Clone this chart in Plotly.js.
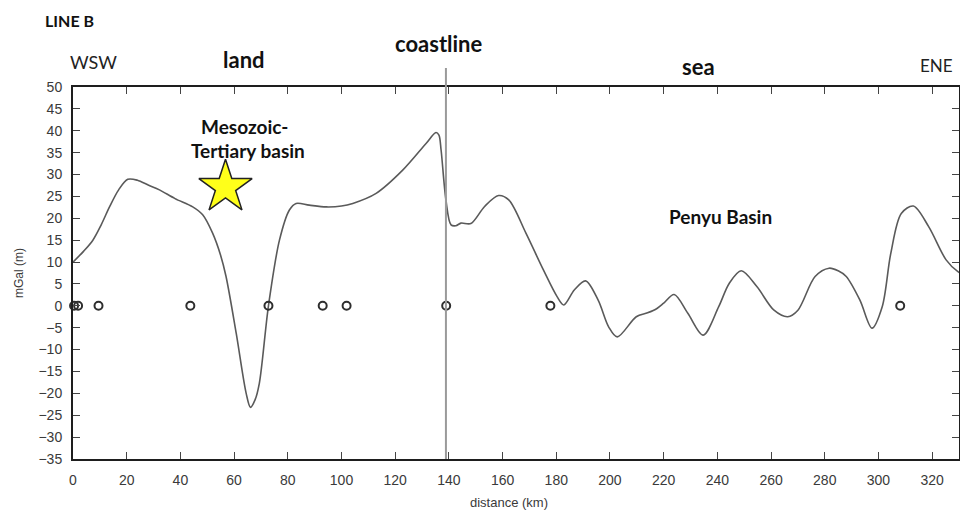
<!DOCTYPE html>
<html>
<head>
<meta charset="utf-8">
<script src="https://cdn.plot.ly/plotly-3.0.1.min.js"></script>
<style>html,body{margin:0;padding:0;background:#fff;}#chart{width:960px;height:510px;}</style>
</head>
<body>
<div id="chart"></div>
<script>
// Gravity anomaly profile (km, mGal)
const distanceKm = [0, 4, 7.4, 10.5, 13.6, 17, 20.4, 24, 28, 32.2, 38, 44.6, 48.3, 52, 55, 57, 60.8, 64.5, 66.1, 67.8, 69.4, 72.8, 76.9, 80.6, 83.1, 88, 94.3, 100, 104.2, 112.9, 122.8, 131.5, 135.2, 136.3, 137.1, 138.9, 140.8, 142.6, 144.5, 148.2, 153.3, 158.5, 162.3, 168.7, 175.2, 180.3, 182.8, 186.7, 190.9, 195.6, 199.5, 202.7, 209.8, 214, 217.5, 220, 223.9, 229, 234.7, 240.5, 244.4, 248.9, 254.7, 261.1, 266.2, 270, 276.4, 281.6, 285, 288, 293.1, 297.6, 301.4, 304.6, 308.5, 313, 318.7, 325.2, 329.6, 331];
const gravity = [10, 12.5, 15, 18.5, 22.6, 26.5, 28.9, 28.7, 27.6, 26.5, 24.5, 22.6, 20.8, 16.6, 11.5, 6.7, -6.3, -20, -23.2, -21.5, -17.7, 0, 15, 21.9, 23.4, 23, 22.6, 22.8, 23.4, 25.7, 31, 37.1, 39.6, 39, 35.6, 24.2, 18.5, 18.3, 18.9, 18.8, 22.7, 25.2, 24.2, 16.6, 8.2, 2.1, 0.2, 3.6, 5.7, 1.3, -4.8, -7.1, -2.5, -1.6, -0.6, 0.6, 2.6, -1.7, -6.7, -0.2, 5.1, 8, 4.4, -1, -2.5, -1, 6.7, 8.6, 8, 6.7, 1.3, -5.1, -0.2, 12, 21.1, 22.8, 18.1, 10.5, 7.8, 7.4];
// Station markers along the profile (y = 0)
const stationKm = [0.4, 1.9, 9.5, 43.7, 72.8, 93.0, 101.9, 139.0, 177.8, 308.1];
const stationY = [0, 0, 0, 0, 0, 0, 0, 0, 0, 0];
// Star marker (Mesozoic-Tertiary basin)
const starKm = [56.8];
const starY = [27.1];
const coastlineKm = 138.9;
const xTicks = [0, 20, 40, 60, 80, 100, 120, 140, 160, 180, 200, 220, 240, 260, 280, 300, 320];
const yTicks = [50, 45, 40, 35, 30, 25, 20, 15, 10, 5, 0, -5, -10, -15, -20, -25, -30, -35];

const tickFont = {family: 'Liberation Sans, Arial, sans-serif', size: 14, color: '#3a3a3a'};
const boldFont = (s) => ({family: 'Lato, Open Sans, sans-serif', size: s, color: '#111'});

const traces = [
  {x: distanceKm, y: gravity, type: 'scatter', mode: 'lines',
   line: {color: '#5a5a5a', width: 1.6, shape: 'spline', smoothing: 0.9}, hoverinfo: 'skip'},
  {x: stationKm, y: stationY, type: 'scatter', mode: 'markers', cliponaxis: false,
   marker: {symbol: 'circle-open', size: 8, color: '#2e2e2e', line: {width: 2, color: '#2e2e2e'}}},
  {x: starKm, y: starY, type: 'scatter', mode: 'markers', cliponaxis: false,
   marker: {symbol: 'star', size: 40, color: '#ffff1a', line: {width: 1.5, color: '#222'}}}
];

const ann = (text, x, y, size, xanchor, bold) => ({
  text: bold ? '<b>' + text + '</b>' : text, xref: 'paper', yref: 'paper', x: x, y: y,
  xanchor: xanchor || 'center', yanchor: 'middle', showarrow: false,
  font: bold ? boldFont(size) : {family: 'Lato, Open Sans, sans-serif', size: size, color: '#222'}
});

const layout = {
  width: 960, height: 510,
  margin: {l: 73, r: 1, t: 87, b: 51, pad: 0},
  paper_bgcolor: '#fff', plot_bgcolor: '#fff',
  showlegend: false,
  xaxis: {range: [0, 330], tickvals: xTicks, ticks: 'inside', ticklen: 7, tickwidth: 1, tickcolor: '#444',
          showline: true, linecolor: '#1e1e1e', linewidth: 2, mirror: 'allticks', showgrid: false, zeroline: false,
          tickfont: tickFont, ticklabelstandoff: 7},
  yaxis: {range: [-35, 50], tickvals: yTicks, ticks: 'inside', ticklen: 7, tickwidth: 1, tickcolor: '#444',
          showline: true, linecolor: '#1e1e1e', linewidth: 2, mirror: 'allticks', showgrid: false, zeroline: false,
          tickfont: tickFont, ticklabelstandoff: 6,
          title: {text: 'mGal (m)', font: {family: 'Liberation Sans, Arial, sans-serif', size: 12, color: '#3a3a3a'}, standoff: 12}},
  shapes: [{type: 'line', xref: 'x', yref: 'paper', x0: coastlineKm, x1: coastlineKm, y0: 0, y1: 1.051,
            line: {color: '#9a9a9a', width: 2}, layer: 'above'}],
  annotations: [
    ann('LINE B', -0.0339, 1.180, 16, 'left', true),
    ann('WSW', 0.0226, 1.067, 18, 'center', false),
    ann('land', 0.193, 1.075, 22, 'center', true),
    ann('coastline', 0.413, 1.118, 22, 'center', true),
    ann('sea', 0.7065, 1.056, 22, 'center', true),
    ann('ENE', 0.996, 1.059, 17, 'right', false),
    ann('Mesozoic-', 0.194, 0.895, 19, 'center', true),
    ann('Tertiary basin', 0.1975, 0.828, 19, 'center', true),
    ann('Penyu Basin', 0.731, 0.653, 19, 'center', true),
    {text: 'distance (km)', xref: 'paper', yref: 'paper', x: 0.492, y: -0.1156, xanchor: 'center', yanchor: 'middle',
     showarrow: false, font: {family: 'Liberation Sans, Arial, sans-serif', size: 13, color: '#3a3a3a'}}
  ]
};

Plotly.newPlot('chart', traces, layout, {displayModeBar: false, staticPlot: true});
</script>
</body>
</html>
